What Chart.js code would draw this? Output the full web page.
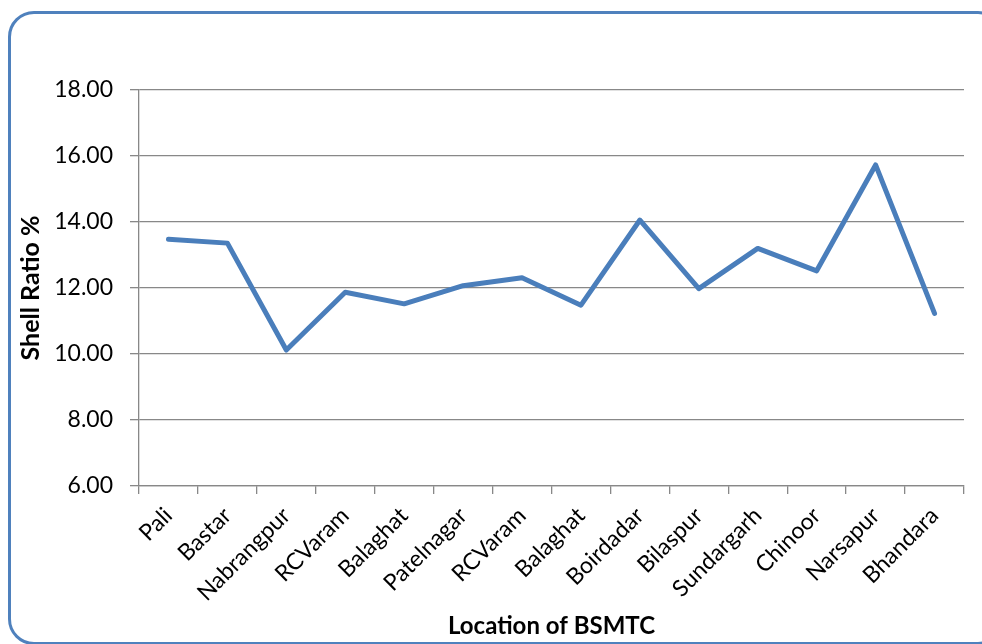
<!DOCTYPE html>
<html>
<head>
<meta charset="utf-8">
<script src="https://cdn.jsdelivr.net/npm/chart.js@4"></script>
<style>
    html, body {
        margin: 0;
        padding: 0;
        background: #ffffff;
        overflow: hidden;
    }
    #frame {
        position: absolute;
        left: 8px;
        top: 11px;
        width: 990px;
        height: 628px;
        border: 3px solid #4f81bd;
        border-radius: 26px;
    }
    #shellChart {
        position: absolute;
        left: 0;
        top: 0;
    }
</style>
</head>
<body>
<div id="frame"></div>
<canvas id="shellChart" width="982" height="644"></canvas>
<script>
// -------------------- DATA --------------------
const locations = [
    "Pali", "Bastar", "Nabrangpur", "RCVaram", "Balaghat", "Patelnagar", "RCVaram",
    "Balaghat", "Boirdadar", "Bilaspur", "Sundargarh", "Chinoor", "Narsapur", "Bhandara"
];

const shellRatio = [
    13.48, 13.36, 10.12, 11.87, 11.52, 12.07, 12.31,
    11.48, 14.06, 11.98, 13.20, 12.52, 15.73, 11.23
];

const yMin = 6;
const yMax = 18;
const yStep = 2;

// -------------------- STYLE --------------------
const lineColor = "#4a7ebb";
const gridColor = "#888888";
const fontFamily = "Lato, 'Open Sans', sans-serif";

// -------------------- BUILD CHART --------------------
const el = document.getElementById("shellChart");

new Chart(el, {
    type: "line",
    data: {
        labels: locations,
        datasets: [{
            label: "Shell Ratio %",
            data: shellRatio,
            borderColor: lineColor,
            borderWidth: 5,
            borderCapStyle: "round",
            borderJoinStyle: "round",
            pointRadius: 0,
            pointHoverRadius: 0,
            tension: 0,
            fill: false
        }]
    },
    options: {
        responsive: false,
        animation: false,
        layout: {
            padding: { top: 90, right: 18, left: 0, bottom: 0 }
        },
        plugins: {
            legend: { display: false },
            tooltip: { enabled: false }
        },
        scales: {
            x: {
                offset: true,
                afterFit(scale) {
                    scale.height = 158;
                },
                grid: {
                    offset: true,
                    drawOnChartArea: false,
                    drawTicks: true,
                    tickLength: 8,
                    color: gridColor,
                    lineWidth: 1.3
                },
                border: {
                    color: gridColor,
                    width: 1.3
                },
                ticks: {
                    autoSkip: false,
                    minRotation: 45,
                    maxRotation: 45,
                    padding: 8,
                    color: "#000000",
                    font: { family: fontFamily, size: 23 }
                },
                title: {
                    display: true,
                    text: "Location of BSMTC",
                    color: "#000000",
                    padding: { top: 0, bottom: 3 },
                    font: { family: fontFamily, size: 24, weight: "bold" }
                }
            },
            y: {
                min: yMin,
                max: yMax,
                afterFit(scale) {
                    scale.width = 139;
                },
                grid: {
                    color: gridColor,
                    lineWidth: 1.3,
                    tickLength: 9
                },
                border: {
                    color: gridColor,
                    width: 1.3
                },
                ticks: {
                    stepSize: yStep,
                    padding: 17,
                    color: "#000000",
                    font: { family: fontFamily, size: 23 },
                    callback: (v) => Number(v).toFixed(2)
                },
                title: {
                    display: true,
                    text: "Shell Ratio %",
                    color: "#000000",
                    padding: { top: 16, bottom: 0 },
                    font: { family: fontFamily, size: 25, weight: "bold" }
                }
            }
        }
    }
});
</script>
</body>
</html>
